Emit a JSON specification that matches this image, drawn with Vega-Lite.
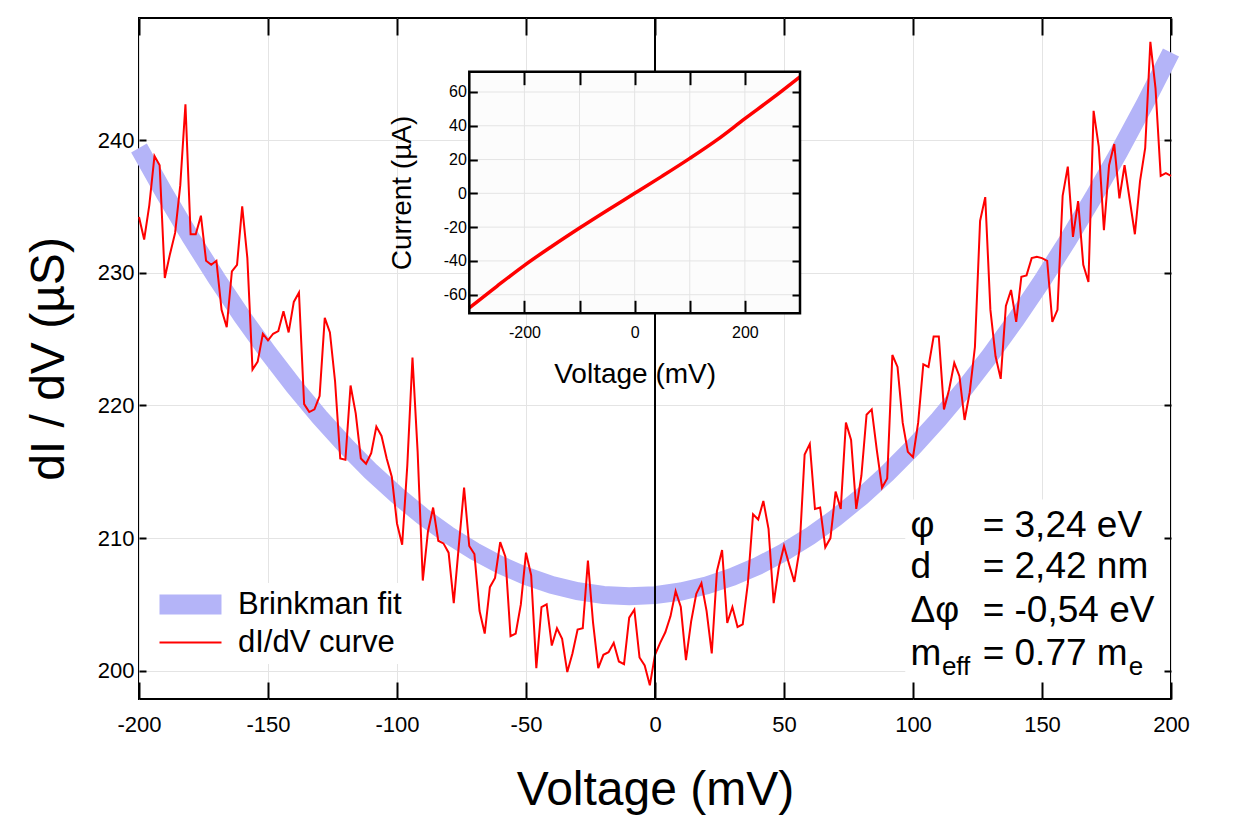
{
  "$schema": "https://vega.github.io/schema/vega-lite/v6.json",
  "width": 1032,
  "height": 681,
  "autosize": {"type": "none"},
  "padding": {"left": 139, "top": 18, "right": 73, "bottom": 124},
  "background": "white",
  "config": {
    "font": "Liberation Sans",
    "view": {"stroke": "black", "strokeWidth": 2},
    "scale": {"continuousPadding": 0},
    "axis": {
      "labelColor": "black",
      "titleColor": "black",
      "titleFontWeight": "normal",
      "tickColor": "black",
      "gridColor": "#e4e4e4",
      "gridWidth": 1,
      "domain": false,
      "labelFlush": false,
      "labelFont": "Liberation Sans",
      "titleFont": "Liberation Sans"
    }
  },
  "datasets": {
    "fit": [
      {"voltage": -200, "conductance": 239.4}, {"voltage": -190, "conductance": 235.94},
      {"voltage": -180, "conductance": 232.67}, {"voltage": -170, "conductance": 229.59},
      {"voltage": -160, "conductance": 226.69}, {"voltage": -150, "conductance": 223.98},
      {"voltage": -140, "conductance": 221.46}, {"voltage": -130, "conductance": 219.12},
      {"voltage": -120, "conductance": 216.97}, {"voltage": -110, "conductance": 215.0},
      {"voltage": -100, "conductance": 213.23}, {"voltage": -90, "conductance": 211.63},
      {"voltage": -80, "conductance": 210.23}, {"voltage": -70, "conductance": 209.01},
      {"voltage": -60, "conductance": 207.98}, {"voltage": -50, "conductance": 207.13},
      {"voltage": -40, "conductance": 206.47}, {"voltage": -30, "conductance": 206.0},
      {"voltage": -20, "conductance": 205.71}, {"voltage": -10, "conductance": 205.61},
      {"voltage": 0, "conductance": 205.7}, {"voltage": 10, "conductance": 205.97},
      {"voltage": 20, "conductance": 206.43}, {"voltage": 30, "conductance": 207.08},
      {"voltage": 40, "conductance": 207.91}, {"voltage": 50, "conductance": 208.93},
      {"voltage": 60, "conductance": 210.14}, {"voltage": 70, "conductance": 211.53},
      {"voltage": 80, "conductance": 213.11}, {"voltage": 90, "conductance": 214.87},
      {"voltage": 100, "conductance": 216.83}, {"voltage": 110, "conductance": 218.96},
      {"voltage": 120, "conductance": 221.29}, {"voltage": 130, "conductance": 223.8},
      {"voltage": 140, "conductance": 226.5}, {"voltage": 150, "conductance": 229.38},
      {"voltage": 160, "conductance": 232.45}, {"voltage": 170, "conductance": 235.71},
      {"voltage": 180, "conductance": 239.15}, {"voltage": 190, "conductance": 242.78},
      {"voltage": 200, "conductance": 246.6}
    ],
    "didv": [
      {"voltage": -200, "conductance": 234.2}, {"voltage": -198, "conductance": 232.5}, {"voltage": -196, "conductance": 235.1}, {"voltage": -194, "conductance": 238.8},
      {"voltage": -192, "conductance": 238.1}, {"voltage": -190, "conductance": 229.6}, {"voltage": -188, "conductance": 231.4}, {"voltage": -186, "conductance": 233.0},
      {"voltage": -184, "conductance": 236.6}, {"voltage": -182, "conductance": 242.7}, {"voltage": -180, "conductance": 232.9}, {"voltage": -178, "conductance": 232.9},
      {"voltage": -176, "conductance": 234.3}, {"voltage": -174, "conductance": 230.9}, {"voltage": -172, "conductance": 230.6}, {"voltage": -170, "conductance": 230.9},
      {"voltage": -168, "conductance": 227.2}, {"voltage": -166, "conductance": 225.9}, {"voltage": -164, "conductance": 230.1}, {"voltage": -162, "conductance": 230.6},
      {"voltage": -160, "conductance": 235.0}, {"voltage": -158, "conductance": 231.1}, {"voltage": -156, "conductance": 222.7}, {"voltage": -154, "conductance": 223.3},
      {"voltage": -152, "conductance": 225.4}, {"voltage": -150, "conductance": 224.9}, {"voltage": -148, "conductance": 225.4}, {"voltage": -146, "conductance": 225.6},
      {"voltage": -144, "conductance": 227.1}, {"voltage": -142, "conductance": 225.5}, {"voltage": -140, "conductance": 227.8}, {"voltage": -138, "conductance": 228.5},
      {"voltage": -136, "conductance": 220.1}, {"voltage": -134, "conductance": 219.5}, {"voltage": -132, "conductance": 219.7}, {"voltage": -130, "conductance": 220.7},
      {"voltage": -128, "conductance": 226.6}, {"voltage": -126, "conductance": 225.5}, {"voltage": -124, "conductance": 221.8}, {"voltage": -122, "conductance": 216.0},
      {"voltage": -120, "conductance": 215.9}, {"voltage": -118, "conductance": 221.5}, {"voltage": -116, "conductance": 219.4}, {"voltage": -114, "conductance": 216.0},
      {"voltage": -112, "conductance": 215.6}, {"voltage": -110, "conductance": 216.4}, {"voltage": -108, "conductance": 218.4}, {"voltage": -106, "conductance": 217.7},
      {"voltage": -104, "conductance": 216.0}, {"voltage": -102, "conductance": 214.6}, {"voltage": -100, "conductance": 211.1}, {"voltage": -98, "conductance": 209.5},
      {"voltage": -96, "conductance": 215.5}, {"voltage": -94, "conductance": 223.6}, {"voltage": -92, "conductance": 216.5}, {"voltage": -90, "conductance": 206.8},
      {"voltage": -88, "conductance": 210.5}, {"voltage": -86, "conductance": 212.3}, {"voltage": -84, "conductance": 209.8}, {"voltage": -82, "conductance": 209.6},
      {"voltage": -80, "conductance": 208.9}, {"voltage": -78, "conductance": 205.1}, {"voltage": -76, "conductance": 209.5}, {"voltage": -74, "conductance": 213.8},
      {"voltage": -72, "conductance": 209.4}, {"voltage": -70, "conductance": 208.8}, {"voltage": -68, "conductance": 204.5}, {"voltage": -66, "conductance": 202.8},
      {"voltage": -64, "conductance": 206.3}, {"voltage": -62, "conductance": 207.0}, {"voltage": -60, "conductance": 209.7}, {"voltage": -58, "conductance": 208.6},
      {"voltage": -56, "conductance": 202.6}, {"voltage": -54, "conductance": 202.8}, {"voltage": -52, "conductance": 205.0}, {"voltage": -50, "conductance": 208.9},
      {"voltage": -48, "conductance": 207.2}, {"voltage": -46, "conductance": 200.2}, {"voltage": -44, "conductance": 204.8}, {"voltage": -42, "conductance": 205.0},
      {"voltage": -40, "conductance": 201.9}, {"voltage": -38, "conductance": 203.2}, {"voltage": -36, "conductance": 202.4}, {"voltage": -34, "conductance": 199.9},
      {"voltage": -32, "conductance": 201.3}, {"voltage": -30, "conductance": 203.1}, {"voltage": -28, "conductance": 203.2}, {"voltage": -26, "conductance": 208.3},
      {"voltage": -24, "conductance": 203.6}, {"voltage": -22, "conductance": 200.2}, {"voltage": -20, "conductance": 201.2}, {"voltage": -18, "conductance": 201.4},
      {"voltage": -16, "conductance": 202.1}, {"voltage": -14, "conductance": 200.7}, {"voltage": -12, "conductance": 200.5}, {"voltage": -10, "conductance": 204.0},
      {"voltage": -8, "conductance": 204.6}, {"voltage": -6, "conductance": 201.0}, {"voltage": -4, "conductance": 200.4}, {"voltage": -2, "conductance": 198.9},
      {"voltage": 0, "conductance": 201.2}, {"voltage": 2, "conductance": 202.1}, {"voltage": 4, "conductance": 202.9}, {"voltage": 6, "conductance": 204.1},
      {"voltage": 8, "conductance": 206.0}, {"voltage": 10, "conductance": 204.8}, {"voltage": 12, "conductance": 200.8}, {"voltage": 14, "conductance": 203.7},
      {"voltage": 16, "conductance": 205.8}, {"voltage": 18, "conductance": 206.6}, {"voltage": 20, "conductance": 204.5}, {"voltage": 22, "conductance": 201.3},
      {"voltage": 24, "conductance": 207.5}, {"voltage": 26, "conductance": 209.1}, {"voltage": 28, "conductance": 203.6}, {"voltage": 30, "conductance": 204.8},
      {"voltage": 32, "conductance": 203.3}, {"voltage": 34, "conductance": 203.5}, {"voltage": 36, "conductance": 206.6}, {"voltage": 38, "conductance": 211.8},
      {"voltage": 40, "conductance": 211.4}, {"voltage": 42, "conductance": 212.8}, {"voltage": 44, "conductance": 210.7}, {"voltage": 46, "conductance": 205.1},
      {"voltage": 48, "conductance": 207.8}, {"voltage": 50, "conductance": 209.4}, {"voltage": 52, "conductance": 208.0}, {"voltage": 54, "conductance": 206.7},
      {"voltage": 56, "conductance": 209.1}, {"voltage": 58, "conductance": 216.3}, {"voltage": 60, "conductance": 217.1}, {"voltage": 62, "conductance": 212.2},
      {"voltage": 64, "conductance": 212.3}, {"voltage": 66, "conductance": 209.3}, {"voltage": 68, "conductance": 210.0}, {"voltage": 70, "conductance": 213.5},
      {"voltage": 72, "conductance": 212.2}, {"voltage": 74, "conductance": 218.7}, {"voltage": 76, "conductance": 217.4}, {"voltage": 78, "conductance": 212.2},
      {"voltage": 80, "conductance": 214.7}, {"voltage": 82, "conductance": 219.3}, {"voltage": 84, "conductance": 219.7}, {"voltage": 86, "conductance": 216.6},
      {"voltage": 88, "conductance": 213.8}, {"voltage": 90, "conductance": 214.5}, {"voltage": 92, "conductance": 223.8}, {"voltage": 94, "conductance": 222.9},
      {"voltage": 96, "conductance": 218.7}, {"voltage": 98, "conductance": 216.5}, {"voltage": 100, "conductance": 216.1}, {"voltage": 102, "conductance": 218.7},
      {"voltage": 104, "conductance": 223.1}, {"voltage": 106, "conductance": 222.9}, {"voltage": 108, "conductance": 225.2}, {"voltage": 110, "conductance": 225.2},
      {"voltage": 112, "conductance": 219.7}, {"voltage": 114, "conductance": 221.2}, {"voltage": 116, "conductance": 223.2}, {"voltage": 118, "conductance": 222.2},
      {"voltage": 120, "conductance": 218.9}, {"voltage": 122, "conductance": 221.0}, {"voltage": 124, "conductance": 224.4}, {"voltage": 126, "conductance": 233.9},
      {"voltage": 128, "conductance": 235.7}, {"voltage": 130, "conductance": 227.2}, {"voltage": 132, "conductance": 223.7}, {"voltage": 134, "conductance": 222.0},
      {"voltage": 136, "conductance": 227.5}, {"voltage": 138, "conductance": 228.7}, {"voltage": 140, "conductance": 226.3}, {"voltage": 142, "conductance": 229.7},
      {"voltage": 144, "conductance": 229.8}, {"voltage": 146, "conductance": 231.1}, {"voltage": 148, "conductance": 231.2}, {"voltage": 150, "conductance": 231.1},
      {"voltage": 152, "conductance": 230.9}, {"voltage": 154, "conductance": 226.3}, {"voltage": 156, "conductance": 227.2}, {"voltage": 158, "conductance": 235.8},
      {"voltage": 160, "conductance": 238.0}, {"voltage": 162, "conductance": 232.7}, {"voltage": 164, "conductance": 235.4}, {"voltage": 166, "conductance": 230.6},
      {"voltage": 168, "conductance": 229.3}, {"voltage": 170, "conductance": 242.2}, {"voltage": 172, "conductance": 239.5}, {"voltage": 174, "conductance": 233.2},
      {"voltage": 176, "conductance": 238.1}, {"voltage": 178, "conductance": 239.7}, {"voltage": 180, "conductance": 235.6}, {"voltage": 182, "conductance": 238.1},
      {"voltage": 184, "conductance": 235.5}, {"voltage": 186, "conductance": 232.9}, {"voltage": 188, "conductance": 236.9}, {"voltage": 190, "conductance": 239.4},
      {"voltage": 192, "conductance": 247.4}, {"voltage": 194, "conductance": 243.9}, {"voltage": 196, "conductance": 237.3}, {"voltage": 198, "conductance": 237.5},
      {"voltage": 200, "conductance": 237.3}
    ],
    "iv": [
      {"voltage": -300, "current": -67.8}, {"voltage": -250, "current": -55.0},
      {"voltage": -200, "current": -42.6}, {"voltage": -150, "current": -31.3},
      {"voltage": -100, "current": -20.5}, {"voltage": -50, "current": -10.1},
      {"voltage": 0, "current": 0.0}, {"voltage": 50, "current": 10.2},
      {"voltage": 100, "current": 20.7}, {"voltage": 150, "current": 31.8},
      {"voltage": 200, "current": 44.2}, {"voltage": 250, "current": 56.3},
      {"voltage": 300, "current": 69.0}
    ],
    "fitParams": [
      {"voltage": 99, "conductance": 210.1, "text": "φ"},
      {"voltage": 127, "conductance": 210.1, "text": "= 3,24 eV"},
      {"voltage": 99, "conductance": 207.0, "text": "d"},
      {"voltage": 127, "conductance": 207.0, "text": "= 2,42 nm"},
      {"voltage": 99, "conductance": 203.7, "text": "Δφ"},
      {"voltage": 127, "conductance": 203.7, "text": "= -0,54 eV"},
      {"voltage": 99, "conductance": 200.4, "text": "m"},
      {"voltage": 127, "conductance": 200.4, "text": "= 0.77 m"}
    ],
    "fitParamSubscripts": [
      {"voltage": 111.2, "conductance": 199.7, "text": "eff"},
      {"voltage": 183.6, "conductance": 199.7, "text": "e"}
    ],
    "insetGridV": [
      {"voltage": -200}, {"voltage": -100}, {"voltage": 0}, {"voltage": 100}, {"voltage": 200}
    ],
    "insetGridI": [
      {"current": -60}, {"current": -40}, {"current": -20}, {"current": 0},
      {"current": 20}, {"current": 40}, {"current": 60}
    ]
  },
  "layer": [
    {
      "layer": [
        {
          "data": {"name": "fit"},
          "mark": {"type": "line", "strokeWidth": 18, "strokeCap": "butt", "clip": false},
          "encoding": {
            "x": {
              "field": "voltage", "type": "quantitative",
              "scale": {"domain": [-200, 200], "nice": false, "zero": false, "padding": 0},
              "axis": {"orient": "bottom", "grid": true, "ticks": false, "labels": false, "title": null,
                       "values": [-200, -150, -100, -50, 0, 50, 100, 150, 200], "zindex": 0}
            },
            "y": {
              "field": "conductance", "type": "quantitative",
              "scale": {"domain": [197.87, 249.2], "nice": false, "zero": false, "padding": 0},
              "axis": {"orient": "left", "grid": true, "ticks": false, "labels": false, "title": null,
                       "values": [200, 210, 220, 230, 240], "zindex": 0}
            },
            "color": {
              "datum": "Brinkman fit",
              "scale": {"domain": ["Brinkman fit", "dI/dV curve"], "range": ["#b4b4f8", "#ff0000"]},
              "legend": {
                "title": null,
                "orient": "none",
                "legendX": 14,
                "legendY": 565,
                "symbolType": "M-1,0H3.133",
                "symbolSize": 900,
                "symbolStrokeWidth": 2,
                "clipHeight": 31,
                "labelFontSize": 31,
                "labelColor": "black",
                "labelLimit": 400,
                "labelOffset": 48,
                "fillColor": "white",
                "padding": 6,
                "rowPadding": 6,
                "encode": {
                  "symbols": {
                    "update": {
                      "strokeWidth": {"signal": "datum.value === 'Brinkman fit' ? 20 : 2"},
                      "strokeCap": {"value": "butt"},
                      "fill": {"value": "transparent"}
                    }
                  }
                }
              }
            }
          }
        },
        {
          "data": {"name": "didv"},
          "mark": {"type": "line", "strokeWidth": 2},
          "encoding": {
            "x": {
              "field": "voltage", "type": "quantitative",
              "axis": {"orient": "bottom", "grid": false, "tickSize": -17, "tickWidth": 2,
                       "labelFontSize": 22, "labelPadding": 32, "labelExpr": "'' + datum.value",
                       "values": [-200, -150, -100, -50, 0, 50, 100, 150, 200],
                       "title": "Voltage (mV)", "titleFontSize": 48, "titlePadding": 31, "zindex": 1}
            },
            "y": {
              "field": "conductance", "type": "quantitative",
              "axis": {"orient": "left", "grid": false, "tickSize": -7, "tickWidth": 2,
                       "labelFontSize": 22, "labelPadding": 12,
                       "values": [200, 210, 220, 230, 240],
                       "title": "dI / dV (µS)", "titleFontSize": 48, "titlePadding": 24, "zindex": 1}
            },
            "color": {"datum": "dI/dV curve"}
          }
        },
        {
          "data": {"values": [{}]},
          "mark": {"type": "rule", "color": "black", "strokeWidth": 2},
          "encoding": {"x": {"datum": 0, "type": "quantitative", "axis": null}}
        },
        {
          "data": {"values": [{}]},
          "mark": {"type": "rect", "fill": "white"},
          "encoding": {
            "x": {"datum": 97, "type": "quantitative",
                  "axis": {"orient": "top", "grid": false, "labels": false, "title": null, "tickSize": -17, "tickWidth": 2,
                           "values": [-200, -150, -100, -50, 0, 50, 100, 150, 200], "zindex": 1}},
            "x2": {"datum": 198.4},
            "y": {"datum": 199.1, "type": "quantitative",
                  "axis": {"orient": "right", "grid": false, "labels": false, "title": null, "tickSize": -7, "tickWidth": 2,
                           "values": [200, 210, 220, 230, 240], "zindex": 1}},
            "y2": {"datum": 212.9}
          }
        },
        {
          "data": {"name": "fitParams"},
          "mark": {"type": "text", "align": "left", "baseline": "alphabetic", "fontSize": 37, "color": "black"},
          "encoding": {
            "x": {"field": "voltage", "type": "quantitative", "axis": null},
            "y": {"field": "conductance", "type": "quantitative", "axis": null},
            "text": {"field": "text"}
          }
        },
        {
          "data": {"name": "fitParamSubscripts"},
          "mark": {"type": "text", "align": "left", "baseline": "alphabetic", "fontSize": 26, "color": "black"},
          "encoding": {
            "x": {"field": "voltage", "type": "quantitative", "axis": null},
            "y": {"field": "conductance", "type": "quantitative", "axis": null},
            "text": {"field": "text"}
          }
        }
      ],
      "resolve": {"axis": {"x": "independent", "y": "independent"}}
    },
    {
      "layer": [
        {
          "data": {"values": [{}]},
          "mark": {"type": "rect", "fill": "#fcfcfc"},
          "encoding": {
            "x": {"datum": -300, "type": "quantitative",
                  "scale": {"domain": [-300, 300], "range": [330.3, 661], "nice": false, "zero": false, "padding": 0},
                  "axis": {"orient": "bottom", "offset": -385.7, "grid": false, "tickSize": -13, "tickWidth": 2,
                           "values": [-200, -100, 0, 100, 200],
                           "labelExpr": "datum.value % 200 === 0 ? '' + datum.value : ''",
                           "labelFontSize": 16, "labelPadding": 24,
                           "title": "Voltage (mV)", "titleFontSize": 28, "titlePadding": 20, "zindex": 1}},
            "x2": {"datum": 300},
            "y": {"datum": -71, "type": "quantitative",
                  "scale": {"domain": [-71, 72], "range": [295.3, 53.7], "nice": false, "zero": false, "padding": 0},
                  "axis": {"orient": "left", "offset": -330.3, "grid": false, "tickSize": -8, "tickWidth": 2,
                           "values": [-60, -40, -20, 0, 20, 40, 60],
                           "labelExpr": "'' + datum.value",
                           "labelFontSize": 16, "labelPadding": 11,
                           "title": "Current (µA)", "titleFontSize": 28, "titlePadding": 27, "zindex": 1}},
            "y2": {"datum": 72}
          }
        },
        {
          "data": {"name": "insetGridV"},
          "mark": {"type": "rule", "color": "#e4e4e4", "strokeWidth": 1},
          "encoding": {
            "x": {"field": "voltage", "type": "quantitative", "axis": null},
            "y": {"datum": -71, "type": "quantitative", "axis": null},
            "y2": {"datum": 72}
          }
        },
        {
          "data": {"name": "insetGridI"},
          "mark": {"type": "rule", "color": "#e4e4e4", "strokeWidth": 1},
          "encoding": {
            "x": {"datum": -300, "type": "quantitative", "axis": null},
            "x2": {"datum": 300},
            "y": {"field": "current", "type": "quantitative", "axis": null}
          }
        },
        {
          "data": {"name": "iv"},
          "mark": {"type": "line", "color": "#ff0000", "strokeWidth": 3.5, "interpolate": "monotone"},
          "encoding": {
            "x": {"field": "voltage", "type": "quantitative",
                  "axis": {"orient": "top", "offset": -53.7, "grid": false, "labels": false, "title": null,
                           "tickSize": -13, "tickWidth": 2, "values": [-200, -100, 0, 100, 200], "zindex": 1}},
            "y": {"field": "current", "type": "quantitative",
                  "axis": {"orient": "right", "offset": -371, "grid": false, "labels": false, "title": null,
                           "tickSize": -8, "tickWidth": 2, "values": [-60, -40, -20, 0, 20, 40, 60], "zindex": 1}}
          }
        },
        {
          "data": {"values": [{}]},
          "mark": {"type": "rect", "fill": null, "stroke": "black", "strokeWidth": 2.5},
          "encoding": {
            "x": {"datum": -300, "type": "quantitative", "axis": null},
            "x2": {"datum": 300},
            "y": {"datum": -71, "type": "quantitative", "axis": null},
            "y2": {"datum": 72}
          }
        }
      ],
      "resolve": {"axis": {"x": "independent", "y": "independent"}}
    }
  ],
  "resolve": {
    "scale": {"x": "independent", "y": "independent"},
    "axis": {"x": "independent", "y": "independent"}
  }
}
